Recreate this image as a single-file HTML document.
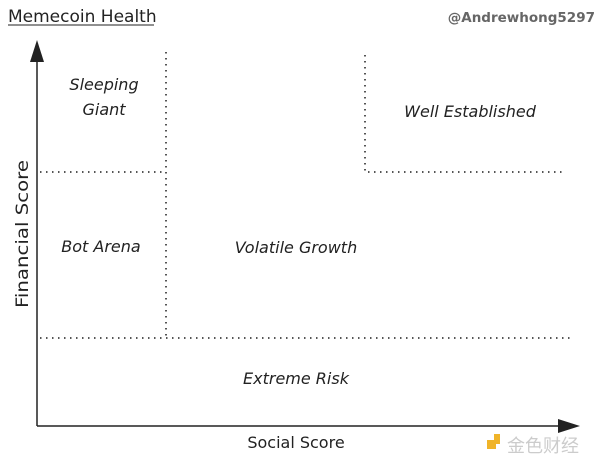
<!DOCTYPE html>
<html><head><meta charset="utf-8"><style>
body{margin:0;background:#fff;width:600px;height:464px;overflow:hidden}
</style></head><body>
<svg width="600" height="464" xmlns="http://www.w3.org/2000/svg" font-family="'DejaVu Sans','Liberation Sans',sans-serif">
<rect width="600" height="464" fill="#fff"/>
<text x="8" y="22" font-size="17" fill="#222">Memecoin Health</text>
<line x1="8" y1="25" x2="154" y2="25" stroke="#222" stroke-width="1"/>
<text x="595" y="22" font-size="13.5" font-weight="bold" fill="#666" text-anchor="end">@Andrewhong5297</text>
<g stroke="#555" stroke-width="2" stroke-dasharray="1.5,4.5" fill="none">
<line x1="40" y1="172" x2="165" y2="172"/>
<line x1="166" y1="52" x2="166" y2="336"/>
<line x1="40" y1="338" x2="570" y2="338"/>
<line x1="365" y1="55" x2="365" y2="172"/>
<line x1="368" y1="172" x2="562" y2="172"/>
</g>
<line x1="37" y1="55" x2="37" y2="426" stroke="#222" stroke-width="1.5"/>
<polygon points="37,40 30,62 44,62" fill="#222"/>
<line x1="37" y1="426" x2="562" y2="426" stroke="#222" stroke-width="1.5"/>
<polygon points="580,426 558,419 558,433" fill="#222"/>
<g font-size="16" font-style="italic" fill="#222" text-anchor="middle">
<text x="104" y="90">Sleeping</text>
<text x="104" y="115">Giant</text>
<text x="470" y="117">Well Established</text>
<text x="101" y="252">Bot Arena</text>
<text x="296" y="253">Volatile Growth</text>
<text x="296" y="384">Extreme Risk</text>
</g>
<text x="296" y="448" font-size="16" fill="#222" text-anchor="middle">Social Score</text>
<text transform="translate(28,234) rotate(-90)" font-size="17" fill="#222" text-anchor="middle" textLength="148" lengthAdjust="spacingAndGlyphs">Financial Score</text>
<rect x="487" y="440" width="9" height="9" fill="#f0b429"/>
<rect x="494" y="434" width="6" height="10" fill="#f0b429"/>
<text x="507" y="452" font-size="18" fill="#ccc" font-family="'Noto Sans CJK SC',sans-serif">金色财经</text>
</svg>
</body></html>
